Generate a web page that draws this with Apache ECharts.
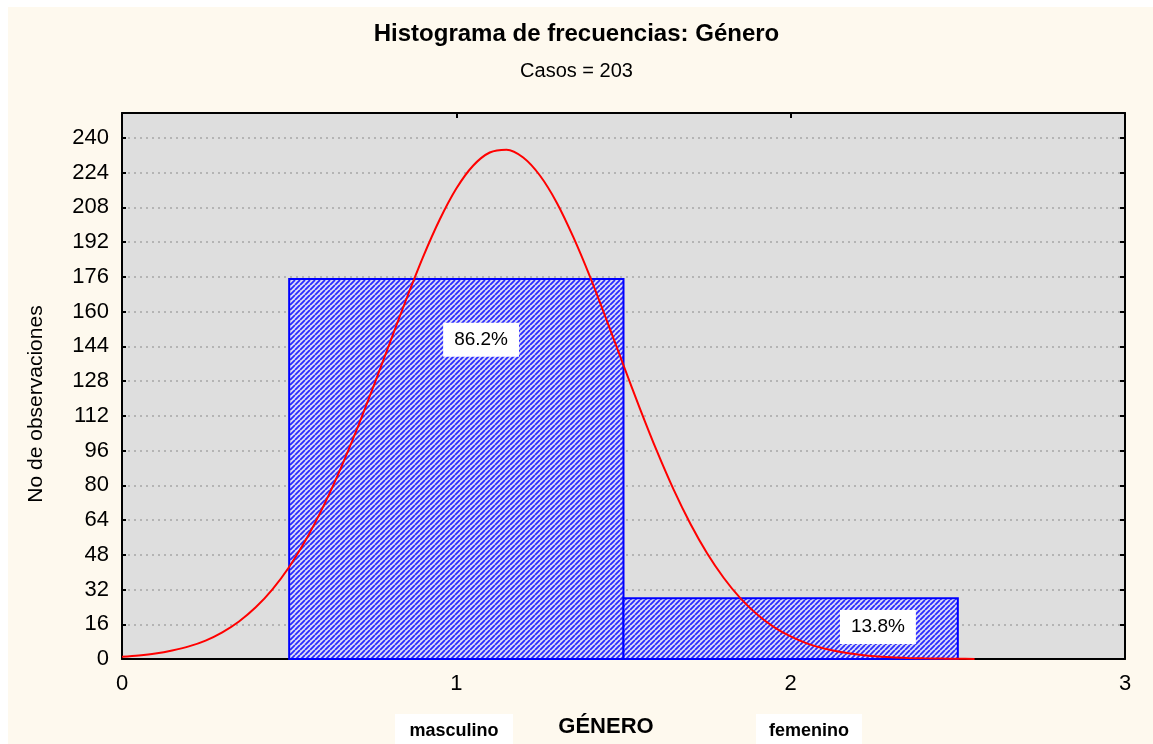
<!DOCTYPE html>
<html>
<head>
<meta charset="utf-8">
<script src="https://cdn.jsdelivr.net/npm/echarts@6/dist/echarts.min.js"></script>
<style>
  html, body { margin: 0; padding: 0; background: #ffffff; }
  #chart { width: 1153px; height: 744px; }
</style>
</head>
<body>
<div id="chart"></div>
<script>
// histogram bins: [from, to, count]
var binNames = ['masculino', 'femenino']
var binFrom = [0.5, 1.5]
var binTo = [1.5, 2.5]
var binCount = [175, 28]
var totalCases = 203

// fitted normal curve
var curveX = [0, 0.05, 0.1, 0.15, 0.2, 0.25, 0.3, 0.35, 0.4, 0.45, 0.5, 0.55, 0.6, 0.65, 0.7, 0.75,
  0.8, 0.85, 0.9, 0.95, 1.0, 1.05, 1.1, 1.15, 1.2, 1.25, 1.3, 1.35, 1.4, 1.45, 1.5, 1.55,
  1.6, 1.65, 1.7, 1.75, 1.8, 1.85, 1.9, 1.95, 2.0, 2.05, 2.1, 2.15, 2.2, 2.25, 2.3, 2.35,
  2.4, 2.45, 2.5, 2.55]
var curveY = [1.0, 1.6, 2.5, 3.9, 5.8, 8.5, 12.3, 17.3, 23.8, 32.1, 42.4, 54.9, 69.6, 86.3, 104.8, 124.7,
  145.2, 165.6, 185.0, 202.3, 216.7, 227.2, 233.3, 234.6, 231.0, 222.7, 210.3, 194.3, 176.0, 155.9, 135.3, 115.0,
  95.7, 78.0, 62.3, 48.7, 37.3, 27.9, 20.5, 14.7, 10.4, 7.1, 4.8, 3.2, 2.1, 1.3, 0.8, 0.5,
  0.3, 0.2, 0.1, 0.05]

// where the percent boxes sit (data coords)
var pctLabelAt = [[1.074, 147], [2.261, 14.7]]

var FONT = '"Liberation Sans", Arial, sans-serif'

// diagonal hatch for the bars
function makeHatch () {
  var c = document.createElement('canvas')
  c.width = 5
  c.height = 5
  var ctx = c.getContext('2d')
  ctx.fillStyle = '#dcdcf6'
  ctx.fillRect(0, 0, 5, 5)
  ctx.strokeStyle = '#2a2aff'
  ctx.lineWidth = 1.8
  ctx.beginPath()
  for (var k = -5; k <= 10; k += 5) {
    ctx.moveTo(k, 5)
    ctx.lineTo(k + 5, 0)
  }
  ctx.stroke()
  return c
}
var hatch = { image: makeHatch(), repeat: 'repeat' }

var barData = []
binNames.forEach(function (name, i) {
  barData.push([binFrom[i], binTo[i], binCount[i], name])
})
var curveData = curveX.map(function (x, i) { return [x, curveY[i]] })
var pctData = binCount.map(function (c, i) {
  return [pctLabelAt[i][0], pctLabelAt[i][1], (c / totalCases * 100).toFixed(1) + '%']
})

function boxText (text, cx, cy, w, h, size) {
  return {
    type: 'group', z: 10,
    children: [
      { type: 'rect', shape: { x: cx - w / 2, y: cy - h / 2, width: w, height: h }, style: { fill: '#ffffff' } },
      { type: 'text', x: cx, y: cy, style: { text: text, font: 'bold ' + size + 'px ' + FONT, fill: '#000', align: 'center', verticalAlign: 'middle' } }
    ]
  }
}

var dom = echarts.init(document.getElementById('chart'))
var option = {
  animation: false,
  backgroundColor: '#ffffff',
  textStyle: { fontFamily: FONT },
  graphic: [
    { type: 'rect', z: -10, silent: true, shape: { x: 8, y: 7, width: 1145, height: 737 }, style: { fill: '#fef9ee' } },
    boxText(binNames[0], 454, 731, 118, 34, 18),
    boxText(binNames[1], 809, 731, 106, 34, 18),
    { type: 'text', x: 606, y: 727, z: 10, style: { text: 'GÉNERO', font: 'bold 22px ' + FONT, fill: '#000', align: 'center', verticalAlign: 'middle' } },
    { type: 'text', x: 36, y: 404, rotation: Math.PI / 2, z: 10, style: { text: 'No de observaciones', font: '21px ' + FONT, fill: '#000', align: 'center', verticalAlign: 'middle' } }
  ],
  title: [
    { text: 'Histograma de frecuencias: Género', left: 'center', top: 22, textStyle: { fontSize: 24, fontWeight: 'bold', color: '#000', fontFamily: FONT }, padding: 0 },
    { text: 'Casos = ' + totalCases, left: 'center', top: 61, textStyle: { fontSize: 20, fontWeight: 'normal', color: '#000', fontFamily: FONT }, padding: 0 }
  ],
  grid: {
    left: 122, right: 28, top: 113, bottom: 85,
    show: true, backgroundColor: '#dedede', borderWidth: 0
  },
  xAxis: [{
    type: 'value', min: 0, max: 3, interval: 1,
    axisLine: { onZero: false, lineStyle: { color: '#000', width: 2 } },
    axisTick: { inside: true, length: 5, lineStyle: { color: '#000', width: 2 } },
    axisLabel: { fontSize: 22, color: '#000', margin: 14, fontFamily: FONT },
    splitLine: { show: false }
  }, {
    type: 'value', min: 0, max: 3, interval: 1, position: 'top',
    axisLine: { show: true, onZero: false, lineStyle: { color: '#000', width: 2 } },
    axisTick: { inside: true, length: 5, lineStyle: { color: '#000', width: 2 } },
    axisLabel: { show: false },
    splitLine: { show: false }
  }],
  yAxis: [{
    type: 'value', min: 0, max: 251.5, interval: 16,
    axisLine: { show: true, onZero: false, lineStyle: { color: '#000', width: 2 } },
    axisTick: { show: true, inside: true, length: 4, lineStyle: { color: '#000', width: 2 } },
    axisLabel: { fontSize: 22, color: '#000', margin: 13, fontFamily: FONT, showMaxLabel: false },
    splitLine: { show: true, lineStyle: { color: '#b4b4b4', type: [2, 4], width: 2 } }
  }, {
    type: 'value', min: 0, max: 251.5, interval: 16, position: 'right',
    axisLine: { show: true, onZero: false, lineStyle: { color: '#000', width: 2 } },
    axisTick: { show: true, inside: true, length: 5, lineStyle: { color: '#000', width: 2 } },
    axisLabel: { show: false },
    splitLine: { show: false }
  }],
  series: [{
    type: 'custom',
    name: 'bins',
    data: barData,
    z: 2,
    renderItem: function (params, api) {
      var p0 = api.coord([api.value(0), api.value(2)])
      var p1 = api.coord([api.value(1), 0])
      return {
        type: 'rect',
        shape: { x: p0[0], y: p0[1], width: p1[0] - p0[0], height: p1[1] - p0[1] },
        style: { fill: hatch, stroke: '#0000ff', lineWidth: 2 }
      }
    }
  }, {
    type: 'line',
    name: 'normal',
    data: curveData,
    showSymbol: false,
    smooth: 0.3,
    z: 3,
    lineStyle: { color: '#ff0000', width: 2 }
  }, {
    type: 'custom',
    name: 'pct',
    data: pctData,
    z: 4,
    renderItem: function (params, api) {
      var p = api.coord([api.value(0), api.value(1)])
      return {
        type: 'text',
        x: p[0], y: p[1],
        style: {
          text: pctData[params.dataIndex][2],
          font: '19px ' + FONT, fill: '#000',
          align: 'center', verticalAlign: 'middle',
          backgroundColor: '#fff', padding: [8, 11, 7, 11]
        }
      }
    }
  }]
}
dom.setOption(option)
</script>
</body>
</html>
